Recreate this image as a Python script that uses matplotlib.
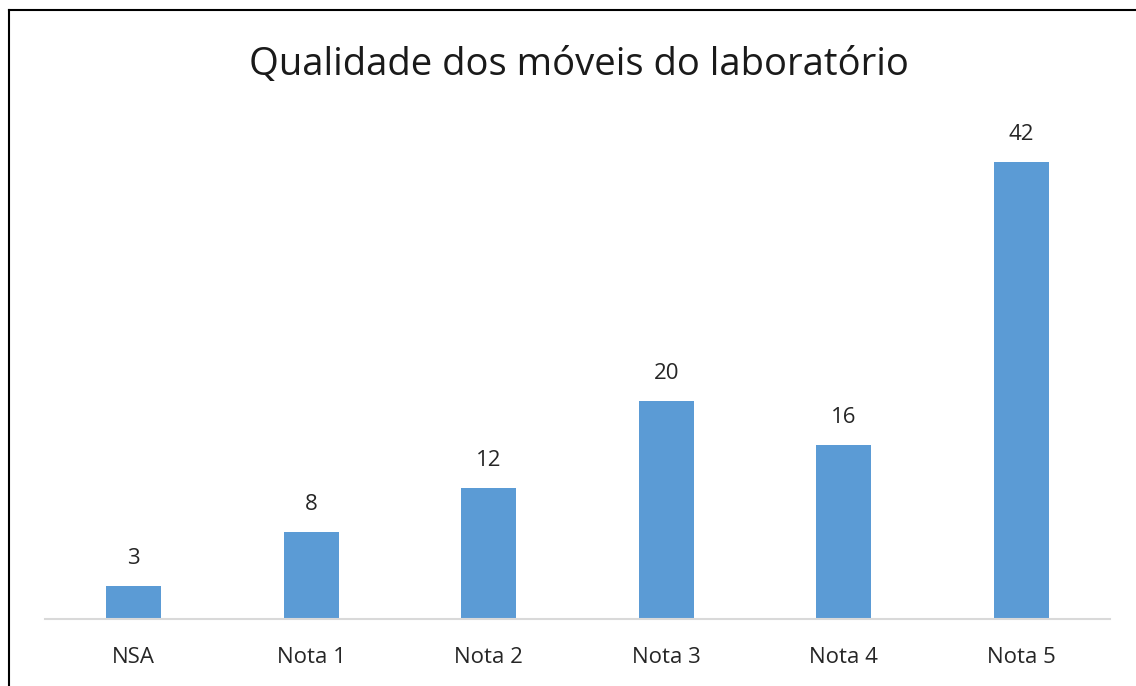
import matplotlib
matplotlib.use("Agg")
from matplotlib import pyplot as plt
from matplotlib.lines import Line2D

categorias = ["NSA", "Nota 1", "Nota 2", "Nota 3", "Nota 4", "Nota 5"]
valores = [3, 8, 12, 20, 16, 42]

plt.rcParams['font.family'] = ['Open Sans', 'DejaVu Sans']

W, H = 1136, 686
fig = plt.figure(figsize=(W / 100, H / 100), dpi=100)
ax = fig.add_axes([45 / W, 67 / H, 1065 / W, 489.6 / H])

x = range(len(categorias))
ax.bar(x, valores, width=0.31, color="#5B9BD5")
for i, v in zip(x, valores):
    ax.text(i, v + 1.6, str(v), ha="center", va="bottom", fontsize=16, color="#262626", clip_on=False)

ax.set_xlim(-0.5, len(categorias) - 0.5)
ax.set_ylim(0, 45)
ax.set_xticks(list(x))
ax.set_xticklabels(categorias, fontsize=16, color="#262626")
ax.tick_params(axis="x", length=0, pad=20)
ax.set_yticks([])
for s in ["top", "right", "left"]:
    ax.spines[s].set_visible(False)
ax.spines["bottom"].set_color("#D9D9D9")
ax.spines["bottom"].set_linewidth(1.5)

fig.text(579 / W, 1 - 65 / H, "Qualidade dos móveis do laboratório", ha="center", va="center",
         fontsize=27.5, color="#1a1a1a")

# moldura preta (esquerda e topo)
fig.add_artist(Line2D([9 / W, 9 / W], [0, 1 - 10 / H], color="black", lw=1.5))
fig.add_artist(Line2D([9 / W, 1], [1 - 10 / H, 1 - 10 / H], color="black", lw=1.5))

plt.savefig("out.png", dpi=100)
